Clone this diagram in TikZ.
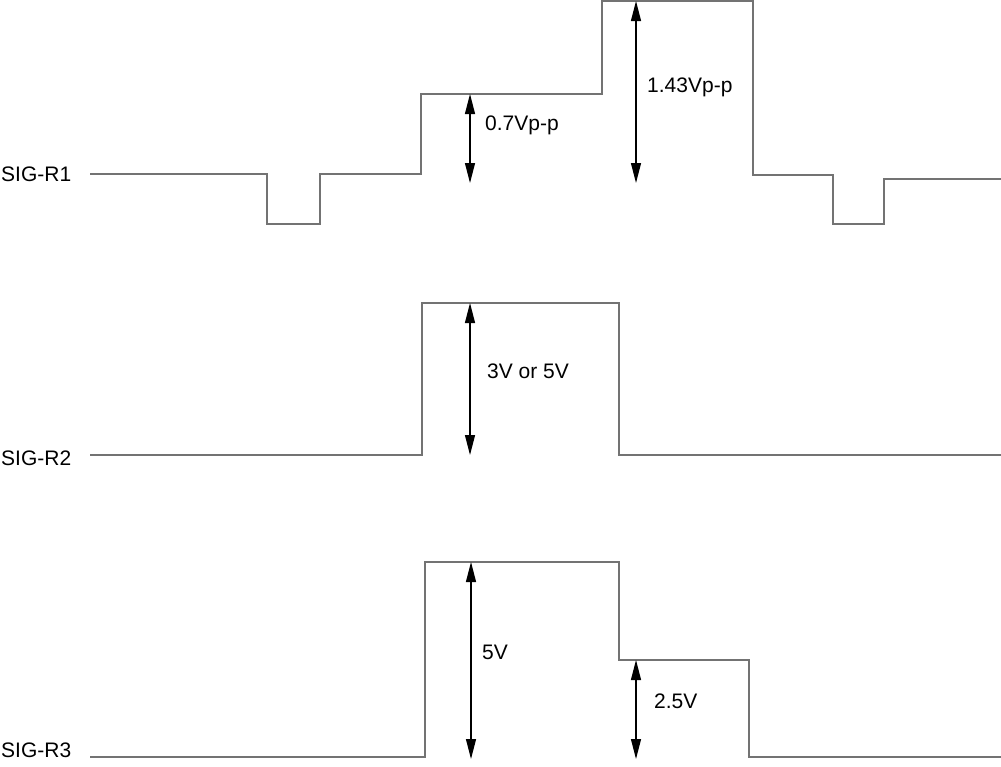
\documentclass[tikz,border=0pt]{standalone}
\usepackage{fontspec}
\setmainfont{Liberation Sans}
\usetikzlibrary{arrows.meta}

\begin{document}
\begin{tikzpicture}[x=1pt,y=-1pt,font=\fontsize{21}{25}\selectfont,
  sig/.style={draw=black!55,line width=1.2pt},
  dim/.style={draw=black,line width=1.2pt,{Triangle[length=20pt,width=10pt]}-{Triangle[length=20pt,width=10pt]}},
  lbl/.style={inner sep=0pt,anchor=base west}]
\useasboundingbox (0,0) rectangle (1001,766);
\node[inner sep=0pt,anchor=west] (r1) at (1,174) {SIG-R1};
\node[inner sep=0pt,anchor=west] (r2) at (1,458) {SIG-R2};
\node[inner sep=0pt,anchor=west] (r3) at (1,750) {SIG-R3};
% SIG-R1
\path[sig] (90,174) -- (267,174) -- (267,224) -- (320,224) -- (320,174) -- (421,174) -- (421,94)
  -- (602,94) -- (602,1) -- (753,1) -- (753,175) -- (833,175) -- (833,224) -- (884,224)
  -- (884,179) -- (1001,179);
\coordinate (a1) at (470,94);
\coordinate (b1) at (470,183);
\coordinate (a2) at (636,1);
\coordinate (b2) at (636,183);
\path[dim] (a1) -- (b1);
\path[dim] (a2) -- (b2);
\node[lbl] (l1) at (485,130) {0.7Vp-p};
\node[lbl] (l2) at (647,92) {1.43Vp-p};
% SIG-R2
\path[sig] (90,455) -- (422,455) -- (422,303) -- (619,303) -- (619,455) -- (1001,455);
\coordinate (a3) at (470,303);
\coordinate (b3) at (470,455);
\path[dim] (a3) -- (b3);
\node[lbl] (l3) at (487,378) {3V or 5V};
% SIG-R3
\path[sig] (90,757) -- (425,757) -- (425,562) -- (619,562) -- (619,660) -- (749,660) -- (749,757) -- (1001,757);
\coordinate (a4) at (471,562);
\coordinate (b4) at (471,759);
\coordinate (a5) at (636,660);
\coordinate (b5) at (636,759);
\path[dim] (a4) -- (b4);
\path[dim] (a5) -- (b5);
\node[lbl] (l4) at (482,659) {5V};
\node[lbl] (l5) at (654,708) {2.5V};
\end{tikzpicture}
\end{document}
